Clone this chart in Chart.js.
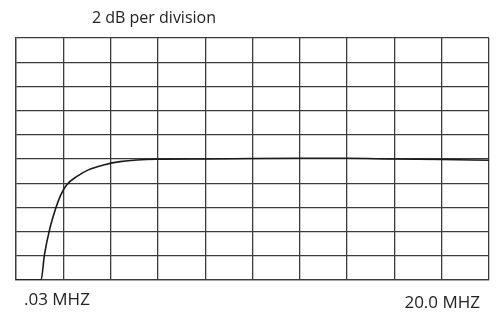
<!DOCTYPE html>
<html>
<head>
<meta charset="utf-8">
<script src="https://cdn.jsdelivr.net/npm/chart.js@4/dist/chart.umd.min.js"></script>
<style>
html,body{margin:0;padding:0;background:#fff;}
#wrap{width:498px;height:313px;position:relative;}
</style>
</head>
<body>
<div id="wrap"><canvas id="c" width="498" height="313"></canvas></div>
<script>
// Response curve, in grid divisions (x: 0..10 divisions, y: 0..10 divisions, 2 dB each)
const xDivisions = [0, 0.53, 0.60, 0.70, 0.84, 0.945, 1.07, 1.28, 1.53, 1.85, 2.20, 2.97, 4, 5, 6, 7, 8, 9, 10];
const yDivisions = [0, 0, 1.03, 2.0, 2.96, 3.51, 3.93, 4.27, 4.55, 4.75, 4.89, 4.99, 5.0, 5.02, 5.03, 5.03, 5.0, 4.98, 4.95];
const titleText = "2 dB per division";
const startLabel = ".03 MHZ";
const endLabel = "20.0 MHZ";

const points = xDivisions.map((x, i) => ({x: x, y: yDivisions[i]}));

const textPlugin = {
  id: 'texts',
  afterDraw(chart) {
    const ctx = chart.ctx;
    const a = chart.chartArea;
    ctx.save();
    ctx.fillStyle = '#222';
    ctx.textBaseline = 'alphabetic';
    ctx.font = '16px "Open Sans"';
    ctx.textAlign = 'center';
    ctx.fillText(titleText, a.left + 138, a.top - 15);
    ctx.font = '17px "Open Sans"';
    ctx.textAlign = 'left';
    ctx.fillText(startLabel, a.left + 8, a.bottom + 25);
    ctx.textAlign = 'right';
    ctx.fillText(endLabel, a.right - 9, a.bottom + 28);
    ctx.restore();
  }
};

new Chart(document.getElementById('c'), {
  type: 'line',
  data: {
    datasets: [{
      data: points,
      borderColor: '#1a1a1a',
      borderWidth: 1.6,
      pointRadius: 0,
      fill: false,
      cubicInterpolationMode: 'monotone'
    }]
  },
  options: {
    responsive: false,
    animation: false,
    layout: {padding: {left: 16, right: 9, top: 38, bottom: 33}},
    plugins: {legend: {display: false}, tooltip: {enabled: false}},
    scales: {
      x: {
        type: 'linear', min: 0, max: 10,
        ticks: {display: false, stepSize: 1},
        grid: {color: '#3c3c3c', lineWidth: 1.3, drawTicks: false, tickLength: 0},
        border: {color: '#3c3c3c', width: 1.3}
      },
      y: {
        type: 'linear', min: 0, max: 10,
        ticks: {display: false, stepSize: 1},
        grid: {color: '#3c3c3c', lineWidth: 1.3, drawTicks: false, tickLength: 0},
        border: {color: '#3c3c3c', width: 1.3}
      }
    }
  },
  plugins: [textPlugin]
});
</script>
</body>
</html>
